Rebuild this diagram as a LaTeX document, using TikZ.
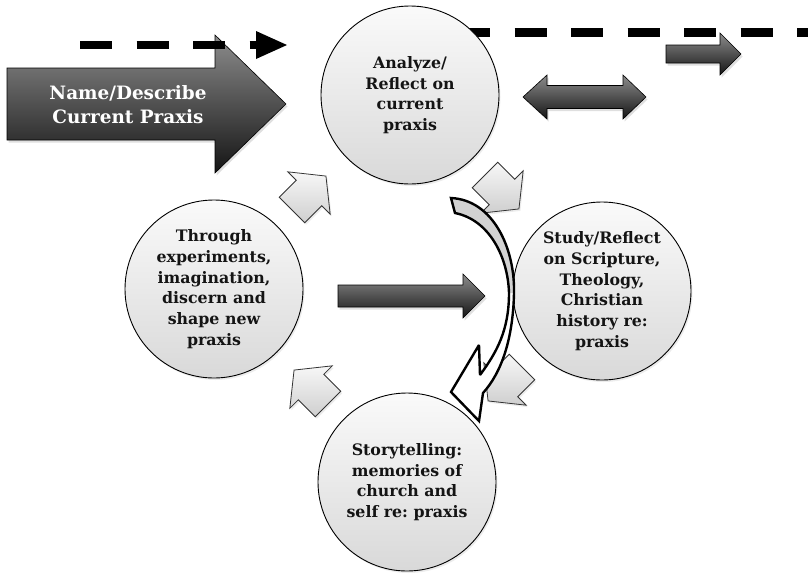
\documentclass[tikz,border=0pt]{standalone}
\usepackage{fontspec}
\setmainfont{DejaVu Serif}
\usetikzlibrary{shadows}
\frenchspacing
\newcommand{\blockarr}[2]{%
  \path[lightarr, shift={#1}, rotate=#2] (0,-18) -- (24,-18) -- (24,-30) -- (48,0) -- (24,30) -- (24,18) -- (0,18) -- cycle;}
\begin{document}
\begin{tikzpicture}[x=1pt,y=-1pt,
  circ/.style={circle, draw=black, line width=0.9pt, top color=gray!4, bottom color=gray!30,
    minimum size=178pt, inner sep=0pt, align=center,
    font=\bfseries\fontsize{15.8}{20.7}\selectfont, text=black!92,
    drop shadow={opacity=0.15, shadow xshift=1.5pt, shadow yshift=-2pt}},
  darkarr/.style={draw=black, line width=0.6pt, top color=black!45, bottom color=black!92,
    drop shadow={opacity=0.25, shadow xshift=1.5pt, shadow yshift=-2.5pt}},
  lightarr/.style={draw=black!80, line width=0.8pt, top color=gray!6, bottom color=gray!38,
    drop shadow={opacity=0.15, shadow xshift=1.5pt, shadow yshift=-2pt}},
  dashline/.style={line width=8.5pt, dash pattern=on 32pt off 24.5pt},
  curvarr/.style={draw=black, line width=2.4pt, line join=miter, miter limit=3},
]
\useasboundingbox (0,0) rectangle (808,576);

% dashed line upper right (behind circle)
\draw[dashline] (458,32.5) -- (830,32.5);

% big arrow
\path[darkarr] (7,68) -- (215,68) -- (215,35) -- (286,104) -- (215,173) -- (215,140) -- (7,140) -- cycle;
\node[font=\bfseries\fontsize{18.4}{24}\selectfont, text=white, align=center] (name) at (128,105) {Name/Describe\\Current Praxis};

% dashed arrow upper left
\draw[dashline] (80,45) -- (257,45);
\fill[black] (256,31) -- (287,45) -- (256,59) -- cycle;

% circles
\node[circ] (analyze) at (410,95) {Analyze/\\Reflect on\\current\\praxis};
\node[circ] (study) at (602,291) {Study/Reflect\\on Scripture,\\Theology,\\Christian\\history re:\\praxis};
\node[circ] (story) at (407,482) {Storytelling:\\memories of\\church and\\self re: praxis};
\node[circ] (through) at (214,289) {Through\\experiments,\\imagination,\\discern and\\shape new\\praxis};

% dark arrows
\path[darkarr] (666,45) -- (720,45) -- (720,33) -- (741,54) -- (720,75) -- (720,63) -- (666,63) -- cycle;
\path[darkarr] (523,97) -- (547,75) -- (547,85.5) -- (623,85.5) -- (623,75) -- (646,97) -- (623,119) -- (623,108.5) -- (547,108.5) -- (547,119) -- cycle;
\path[darkarr] (338,285) -- (463,285) -- (463,274) -- (485,296) -- (463,318) -- (463,307) -- (338,307) -- cycle;

% light block arrows
\blockarr{(292,210)}{45}
\blockarr{(485,175)}{-45}
\blockarr{(522,367)}{-135}
\blockarr{(328,404)}{135}

% curved arrow
\fill[white] (451,198) .. controls (493,200) and (515,248) .. (514,293)
  .. controls (513,338) and (502,372) .. (483,393)
  -- (479,421) -- (451,392) -- (479,345) -- (480,375)
  .. controls (497,352) and (509,330) .. (509,293)
  .. controls (508,258) and (490,220) .. (455,213) -- cycle;
\fill[gray!35] (451,198) .. controls (493,200) and (515,248) .. (514,293)
  -- (509,293) .. controls (508,258) and (490,220) .. (455,213) -- cycle;
\draw[curvarr] (451,198) .. controls (493,200) and (515,248) .. (514,293)
  .. controls (513,338) and (502,372) .. (483,393)
  -- (479,421) -- (451,392) -- (479,345) -- (480,375)
  .. controls (497,352) and (509,330) .. (509,293)
  .. controls (508,258) and (490,220) .. (455,213) -- cycle;
\end{tikzpicture}
\end{document}
